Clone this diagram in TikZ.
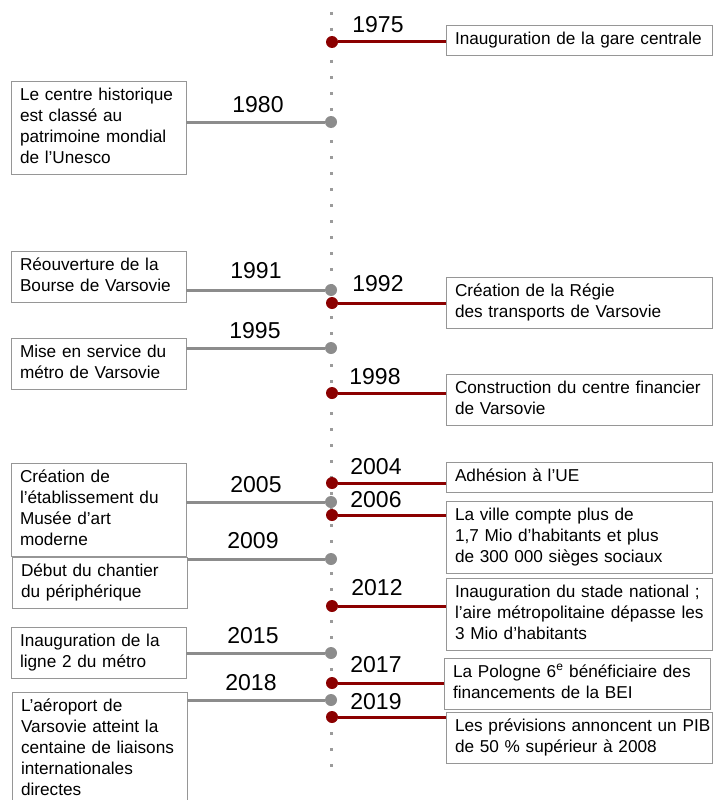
\documentclass[tikz,border=0pt]{standalone}
\usepackage{fontspec}
\setmainfont{Liberation Sans}
\definecolor{wred}{RGB}{139,0,0}
\definecolor{wgray}{RGB}{140,140,140}
\definecolor{dotgray}{RGB}{155,155,155}
\definecolor{boxgray}{RGB}{150,150,150}
\tikzstyle{event} = [draw=boxgray, line width=0.8pt, fill=white, anchor=north west, align=left, inner xsep=9pt, inner ysep=4.5pt, outer sep=0pt, font=\fontsize{17.2}{21}\selectfont, execute at begin node=\strut, execute at end node=\strut]
\tikzstyle{leftbox} = [event, text width=157pt]
\tikzstyle{rightbox} = [event, text width=248pt]
\tikzstyle{year} = [font=\fontsize{23}{27}\selectfont, inner sep=0pt]
\tikzstyle{reddot} = [circle, fill=wred, inner sep=0pt, minimum size=12pt]
\tikzstyle{graydot} = [circle, fill=wgray, inner sep=0pt, minimum size=12pt]
\tikzstyle{redline} = [wred, line width=3pt]
\tikzstyle{grayline} = [wgray, line width=3pt]
\tikzstyle{axis} = [dotgray, line width=3pt, dash pattern=on 3pt off 13pt]

\begin{document}
\begin{tikzpicture}[x=1pt, y=1pt, yscale=-1]
\useasboundingbox (0,0) rectangle (713,800);

\coordinate (top) at (331,12);
\coordinate (bottom) at (331,770);
\draw[axis] (top) -- (bottom);

% right side
\node[reddot] (d1975) at (332,42) {};
\node[rightbox] (e1975) at (446,25) {Inauguration de la gare centrale};
\node[year] (y1975) at (378,25) {1975};
\draw[redline] (d1975) -- (d1975 -| e1975.west);

\node[reddot] (d1992) at (332,303) {};
\node[rightbox] (e1992) at (446,277) {Création de la Régie\\des transports de Varsovie};
\node[year] (y1992) at (378,284) {1992};
\draw[redline] (d1992) -- (d1992 -| e1992.west);

\node[reddot] (d1998) at (332,393) {};
\node[rightbox] (e1998) at (446,374) {Construction du centre financier\\de Varsovie};
\node[year] (y1998) at (375,377) {1998};
\draw[redline] (d1998) -- (d1998 -| e1998.west);

\node[reddot] (d2004) at (332,483) {};
\node[rightbox] (e2004) at (446,462) {Adhésion à l’UE};
\node[year] (y2004) at (376,467) {2004};
\draw[redline] (d2004) -- (d2004 -| e2004.west);

\node[reddot] (d2006) at (332,515) {};
\node[rightbox] (e2006) at (446,501) {La ville compte plus de\\1,7 Mio d’habitants et plus\\de 300 000 sièges sociaux};
\node[year] (y2006) at (376,500) {2006};
\draw[redline] (d2006) -- (d2006 -| e2006.west);

\node[reddot] (d2012) at (332,606) {};
\node[rightbox] (e2012) at (446,578) {Inauguration du stade national ;\\\mbox{l’aire métropolitaine dépasse les}\\3 Mio d’habitants};
\node[year] (y2012) at (377,588) {2012};
\draw[redline] (d2012) -- (d2012 -| e2012.west);

\node[reddot] (d2017) at (332,683) {};
\node[rightbox] (e2017) at (444,658) {La Pologne 6\textsuperscript{e} bénéficiaire des\\financements de la BEI};
\node[year] (y2017) at (376,665) {2017};
\draw[redline] (d2017) -- (d2017 -| e2017.west);

\node[reddot] (d2019) at (332,717) {};
\node[rightbox] (e2019) at (446,712) {\mbox{Les prévisions annoncent un PIB}\\de 50 \% supérieur à 2008};
\node[year] (y2019) at (376,702) {2019};
\draw[redline] (d2019) -- (d2019 -| e2019.west);

% left side
\node[graydot] (d1980) at (331,122) {};
\node[leftbox] (e1980) at (11,81) {Le centre historique\\est classé au\\patrimoine mondial\\de l’Unesco};
\node[year] (y1980) at (258,105) {1980};
\draw[grayline] (d1980) -- (d1980 -| e1980.east);

\node[graydot] (d1991) at (331,290) {};
\node[leftbox] (e1991) at (11,251) {Réouverture de la\\Bourse de Varsovie};
\node[year] (y1991) at (256,271) {1991};
\draw[grayline] (d1991) -- (d1991 -| e1991.east);

\node[graydot] (d1995) at (331,348) {};
\node[leftbox] (e1995) at (11,338) {Mise en service du\\métro de Varsovie};
\node[year] (y1995) at (255,331) {1995};
\draw[grayline] (d1995) -- (d1995 -| e1995.east);

\node[graydot] (d2005) at (331,502) {};
\node[leftbox] (e2005) at (11,463) {Création de\\l’établissement du\\Musée d’art\\moderne};
\node[year] (y2005) at (256,485) {2005};
\draw[grayline] (d2005) -- (d2005 -| e2005.east);

\node[graydot] (d2009) at (331,559) {};
\node[leftbox] (e2009) at (12,557) {Début du chantier\\du périphérique};
\node[year] (y2009) at (253,541) {2009};
\draw[grayline] (d2009) -- (d2009 -| e2009.east);

\node[graydot] (d2015) at (331,653) {};
\node[leftbox] (e2015) at (11,627) {Inauguration de la\\ligne 2 du métro};
\node[year] (y2015) at (253,636) {2015};
\draw[grayline] (d2015) -- (d2015 -| e2015.east);

\node[graydot] (d2018) at (331,700) {};
\node[leftbox] (e2018) at (12,692) {L’aéroport de\\Varsovie atteint la\\centaine de liaisons\\internationales\\directes};
\node[year] (y2018) at (251,683) {2018};
\draw[grayline] (d2018) -- (d2018 -| e2018.east);

\end{tikzpicture}
\end{document}
